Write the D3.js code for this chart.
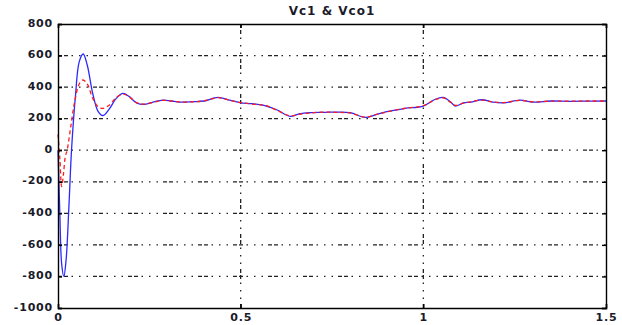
<!DOCTYPE html>
<html>
<head>
<meta charset="utf-8">
<script src="https://cdn.jsdelivr.net/npm/d3@7"></script>
<style>
  body { margin: 0; background: #fff; }
  svg { display: block; }
  text { font-family: "DejaVu Sans", sans-serif; }
</style>
</head>
<body>
<div id="chart"></div>
<script>
// données
const title = "Vc1 & Vco1";
const xTicks = [0, 0.5, 1, 1.5];
const yTicks = [800, 600, 400, 200, 0, -200, -400, -600, -800, -1000];

const tVc1 = [0, 0.005, 0.010, 0.016, 0.022, 0.030, 0.037, 0.048, 0.058, 0.069, 0.080, 0.095, 0.110, 0.123,
  0.140, 0.160, 0.178, 0.195, 0.215, 0.235, 0.26, 0.287, 0.31, 0.334, 0.37, 0.40, 0.438, 0.47, 0.5,
  0.53, 0.57, 0.60, 0.635, 0.66, 0.69, 0.73, 0.76, 0.80, 0.84, 0.87, 0.90, 0.95, 1.0, 1.03, 1.054,
  1.075, 1.087, 1.11, 1.13, 1.16, 1.19, 1.22, 1.265, 1.30, 1.35, 1.40, 1.45, 1.5];
const vc1 = [0, -400, -720, -800, -700, -350, 0, 350, 560, 610, 540, 360, 245, 220,
  260, 330, 360, 340, 300, 290, 305, 318, 312, 305, 308, 312, 335, 318, 300,
  295, 280, 255, 215, 230, 238, 240, 242, 238, 208, 225, 245, 265, 280, 320, 335,
  305, 280, 300, 305, 320, 305, 300, 318, 305, 312, 310, 311, 312];

const tVco1 = [0, 0.005, 0.010, 0.015, 0.020, 0.025, 0.035, 0.045, 0.058, 0.068, 0.080, 0.095, 0.110, 0.123,
  0.140, 0.160, 0.178, 0.195, 0.215, 0.235, 0.26, 0.287, 0.31, 0.334, 0.37, 0.40, 0.438, 0.47, 0.5,
  0.53, 0.57, 0.60, 0.635, 0.66, 0.69, 0.73, 0.76, 0.80, 0.84, 0.87, 0.90, 0.95, 1.0, 1.03, 1.054,
  1.075, 1.087, 1.11, 1.13, 1.16, 1.19, 1.22, 1.265, 1.30, 1.35, 1.40, 1.45, 1.5];
const vco1 = [100, -50, -230, -150, -40, 0, 150, 300, 420, 445, 420, 330, 275, 265,
  285, 335, 355, 338, 302, 292, 303, 316, 312, 306, 307, 313, 333, 316, 302,
  293, 282, 252, 218, 228, 236, 242, 240, 236, 210, 226, 243, 266, 282, 318, 332,
  303, 284, 298, 307, 318, 306, 302, 316, 307, 311, 311, 312, 312];

const width = 622, height = 325;
const margin = {left: 58, right: 16, top: 24, bottom: 17};

const svg = d3.select("#chart").append("svg")
  .attr("width", width)
  .attr("height", height);

const x = d3.scaleLinear().domain([0, 1.5]).range([margin.left, width - margin.right]);
const y = d3.scaleLinear().domain([-1000, 800]).range([height - margin.bottom, margin.top]);

const gridDash = "4,2,4,3.5,1.5,6,1.5,6,1.5,5";

// grille pointillée
svg.append("g").selectAll("line").data(yTicks.slice(1, -1)).join("line")
  .attr("x1", x(0)).attr("x2", x(1.5))
  .attr("y1", d => y(d)).attr("y2", d => y(d))
  .attr("stroke", "#222").attr("stroke-width", 1.3)
  .attr("stroke-dasharray", gridDash);
svg.append("g").selectAll("line").data(xTicks.slice(1, -1)).join("line")
  .attr("x1", d => x(d)).attr("x2", d => x(d))
  .attr("y1", y(800)).attr("y2", y(-1000))
  .attr("stroke", "#222").attr("stroke-width", 1.3)
  .attr("stroke-dasharray", gridDash);

// courbes
const line = d3.line()
  .x(d => x(d[0]))
  .y(d => y(d[1]))
  .curve(d3.curveCatmullRom.alpha(0.5));

svg.append("path")
  .datum(d3.zip(tVc1, vc1))
  .attr("fill", "none")
  .attr("stroke", "#2a2aff")
  .attr("stroke-width", 1.3)
  .attr("d", line);

svg.append("path")
  .datum(d3.zip(tVco1, vco1))
  .attr("fill", "none")
  .attr("stroke", "#ff1a1a")
  .attr("stroke-width", 1.3)
  .attr("stroke-dasharray", "4,3")
  .attr("d", line);

// axes
const axLeft = svg.append("g")
  .attr("transform", `translate(${margin.left},0)`)
  .call(d3.axisLeft(y).tickValues(yTicks).tickSize(-4).tickPadding(5).tickFormat(d3.format("d")));
const axRight = svg.append("g")
  .attr("transform", `translate(${width - margin.right},0)`)
  .call(d3.axisRight(y).tickValues(yTicks).tickSize(-4).tickFormat(""));
const axBottom = svg.append("g")
  .attr("transform", `translate(0,${height - margin.bottom})`)
  .call(d3.axisBottom(x).tickValues(xTicks).tickSize(-4).tickPadding(5).tickFormat(d3.format("")));
const axTop = svg.append("g")
  .attr("transform", `translate(0,${margin.top})`)
  .call(d3.axisTop(x).tickValues(xTicks).tickSize(-4).tickFormat(""));

[axLeft, axRight, axBottom, axTop].forEach(g => {
  g.select(".domain").attr("stroke", "#000").attr("stroke-width", 1.4);
  g.selectAll(".tick line").attr("stroke", "#000").attr("stroke-width", 1.4);
  g.selectAll(".tick text")
    .attr("fill", "#1a1a2a")
    .style("font-size", "11px")
    .style("font-weight", "bold")
    .style("letter-spacing", "0.8px")
    .style("font-family", "DejaVu Sans, sans-serif");
});
axLeft.selectAll(".tick text").text(d => d < 0 ? "-" + Math.abs(d) : d).attr("dy", "0.2em");

// titre
svg.append("text")
  .attr("x", (x(0) + x(1.5)) / 2)
  .attr("y", 15)
  .attr("text-anchor", "middle")
  .attr("fill", "#1a1a2a")
  .style("font-size", "12px")
  .style("font-weight", "bold")
  .style("letter-spacing", "1px")
  .text(title);
</script>
</body>
</html>
